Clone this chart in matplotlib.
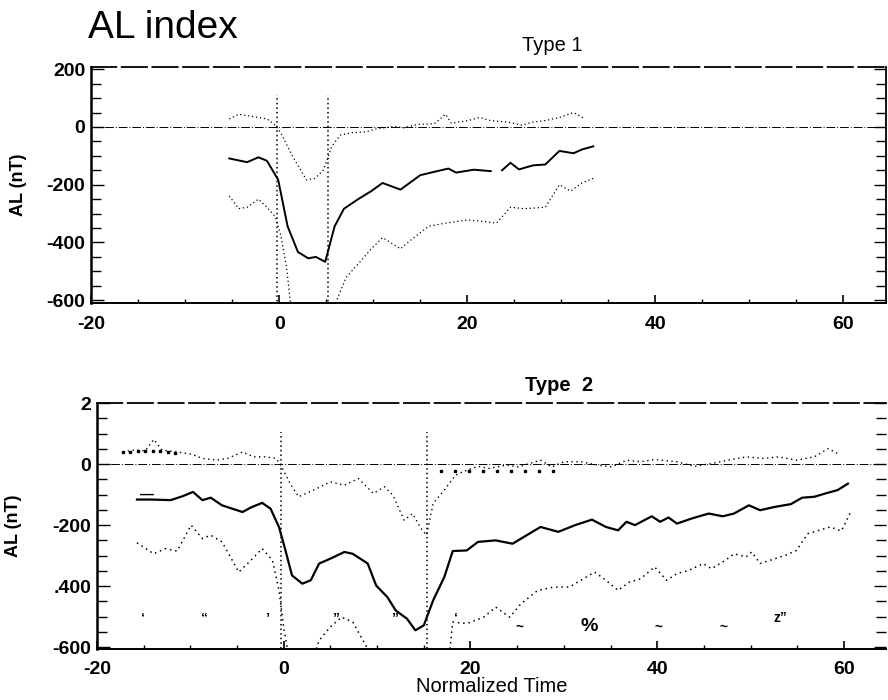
import numpy as np
import matplotlib
matplotlib.use('Agg')
import matplotlib.pyplot as plt
from matplotlib.ticker import MultipleLocator

plt.rcParams['font.family'] = ['Liberation Sans', 'DejaVu Sans']
plt.rcParams['axes.unicode_minus'] = False

# ---- Type 1 ----
t1_x = [-5.3, -3.4, -2.2, -1.3, -0.1, 0.9, 2.0, 3.1, 3.9, 4.9, 5.9, 6.9, 8.4, 9.8, 11.0,
        12.9, 15.0, 16.8, 18.0, 18.8, 20.7, 22.5, 23.1, 23.7, 24.6, 25.5, 27.0, 28.3,
        29.8, 31.3, 32.2, 33.4]
t1_mean = [-109, -122, -105, -117, -183, -344, -433, -455, -450, -467, -344, -283, -250,
           -222, -194, -217, -167, -153, -144, -158, -148, -153, np.nan, -150, -124, -147,
           -133, -130, -83, -91, -78, -67]

t1_up_x = [-5.3, -4.3, -2.8, -1.3, -0.4, 0.2, 1.4, 2.9, 3.8, 4.7, 5.6, 6.5, 7.7, 9.2, 10.4,
           12.3, 13.2, 14.7, 16.5, 17.7, 18.3, 20.1, 21.3, 22.5, 24.3, 25.8, 27.0, 28.3,
           29.8, 31.3, 32.5]
t1_up = [28, 44, 36, 28, 6, -22, -100, -183, -178, -150, -67, -28, -20, -17, -6, 2, -3, 9,
         11, 44, 13, 22, 33, 22, 17, 6, 17, 22, 33, 50, 28]

t1_lo_x = [-5.3, -4.3, -3.4, -2.2, -1.3, -0.4, 0.2, 0.8, 1.2, 3.5, 6.0, 7.1, 8.6, 9.8,
           11.0, 12.9, 14.1, 15.9, 17.7, 20.1, 21.9, 23.1, 24.6, 26.1, 28.3, 29.8, 31.0,
           32.2, 33.4]
t1_lo = [-239, -283, -278, -250, -278, -311, -378, -489, -610, np.nan, -610, -522, -467,
         -422, -383, -422, -389, -344, -333, -322, -328, -333, -278, -283, -278, -200,
         -222, -194, -178]
t1_marks = [-0.2, 5.2]

# ---- Type 2 ----
t2_x = [-15.7, -14.2, -12.1, -10.8, -9.7, -8.7, -7.8, -6.6, -4.4, -3.5, -2.3, -1.4, -0.5,
        0.1, 0.9, 2.0, 2.9, 3.8, 5.0, 6.5, 7.4, 9.0, 9.9, 11.1, 12.0, 13.2, 14.1, 15.0,
        16.0, 17.2, 18.1, 19.6, 20.8, 22.7, 24.5, 26.3, 27.5, 29.4, 31.2, 33.0, 34.5,
        35.8, 36.7, 37.6, 39.4, 40.3, 41.2, 42.1, 43.7, 45.5, 47.0, 48.2, 49.8, 51.0,
        52.6, 54.3, 55.5, 56.8, 58.0, 59.3, 60.4]
t2_mean = [-116, -116, -118, -105, -91, -118, -110, -135, -157, -142, -127, -146, -206,
           -272, -365, -392, -381, -326, -310, -288, -294, -326, -398, -436, -480, -507,
           -545, -529, -447, -370, -285, -283, -255, -250, -261, -228, -206, -222, -200,
           -182, -206, -217, -189, -200, -171, -189, -175, -195, -178, -162, -171, -162,
           -135, -151, -140, -131, -110, -107, -96, -85, -64]

t2_up_x = [-17.2, -16.0, -14.8, -13.9, -13.0, -11.4, -9.9, -8.7, -7.2, -6.0, -4.4, -3.2,
           -2.0, -0.8, -0.2, 0.7, 1.6, 3.2, 5.0, 6.5, 8.0, 9.6, 10.8, 11.7, 12.9, 13.8,
           14.7, 15.3, 16.0, 17.2, 18.4, 19.6, 20.8, 22.0, 23.9, 25.1, 26.3, 27.5, 28.7,
           30.0, 31.8, 33.6, 35.1, 36.7, 38.2, 39.7, 42.1, 44.0, 45.8, 47.6, 49.5, 51.3,
           53.0, 54.9, 56.8, 58.3, 59.3]
t2_up = [40, 46, 44, 81, 46, 40, 33, 19, 13, 19, 40, 24, 24, 19, -9, -64, -107, -85, -58,
         -69, -47, -96, -74, -102, -184, -162, -211, -233, -129, -85, -36, -20, -7, -14,
         -3, -9, 2, 13, -9, 8, 8, -3, -9, 13, 8, 15, 8, -7, 2, 13, 24, 19, 24, 13, 24, 51,
         35]

t2_lo_x = [-15.7, -13.9, -12.7, -11.4, -9.9, -8.7, -7.8, -6.6, -4.8, -3.5, -2.3, -1.2,
           -0.5, 0.0, 0.4, 2.0, 3.5, 3.8, 5.0, 6.2, 7.4, 9.0, 13.0, 17.8, 18.1, 19.6, 21.4,
           22.7, 24.2, 25.4, 27.2, 29.0, 30.6, 31.8, 33.3, 34.5, 35.8, 37.0, 38.2, 39.7,
           41.0, 42.1, 43.4, 44.9, 45.8, 47.3, 48.2, 49.5, 50.1, 51.0, 52.6, 53.7, 54.9,
           56.1, 57.3, 58.5, 59.7, 60.7]
t2_lo = [-258, -294, -277, -285, -200, -244, -233, -255, -354, -315, -277, -315, -414,
         -534, -606, np.nan, -606, -578, -534, -502, -518, -606, np.nan, -606, -518, -523,
         -502, -469, -502, -458, -414, -403, -403, -381, -354, -381, -414, -387, -376,
         -337, -381, -359, -348, -326, -343, -315, -294, -304, -288, -326, -310, -299,
         -283, -228, -217, -206, -219, -157]
t2_marks = [-0.3, 15.3]

t2_sq_x = [-17.2, -16.4, -15.6, -14.8, -14.0, -13.2, -12.4, -11.6, 16.8, 18.3, 19.8, 21.3,
           22.8, 24.3, 25.8, 27.3, 28.8]
t2_sq = [40, 40, 42, 42, 42, 42, 40, 38, -22, -22, -22, -22, -22, -22, -22, -22, -22]

# stray scan glyphs in the Type 2 panel
glyphs = ['\u2018', '\u201c', '\u2019', '\u201d', '\u201d', '\u2018', '~', '%', '~', '~', 'z\u201d', '\u2014']
glyph_x = [-15.1, -8.5, -1.8, 5.6, 11.9, 18.4, 25.2, 32.7, 40.1, 47.1, 53.2, -14.6]
glyph_y = [-505, -505, -505, -505, -505, -505, -534, -534, -534, -534, -505, -100]

fig = plt.figure(figsize=(8.88, 7.0), dpi=100)
ax1 = fig.add_axes([0.1025, 0.567, 0.895, 0.337])
ax2 = fig.add_axes([0.109, 0.073, 0.889, 0.351])


def style_axes(ax, ylo, yhi, ylabels):
    ax.set_xlim(-20, 64.5)
    ax.set_ylim(ylo, yhi)
    ax.axhline(0, color='k', lw=0.7, ls=(0, (9, 2, 1, 2)))
    ax.xaxis.set_major_locator(MultipleLocator(20))
    ax.xaxis.set_minor_locator(MultipleLocator(5))
    ax.set_yticks([200, 0, -200, -400, -600])
    ax.set_yticklabels(ylabels)
    ax.yaxis.set_minor_locator(MultipleLocator(50))
    ax.tick_params(which='both', direction='in', right=True, top=False)
    ax.tick_params(axis='y', which='major', length=9, width=1.0, pad=4, labelsize=14)
    ax.tick_params(axis='y', which='minor', length=7, width=1.0)
    ax.tick_params(axis='x', which='major', length=6, width=1.2, pad=9, labelsize=14)
    ax.tick_params(axis='x', which='minor', length=3, width=1.0)
    for lab in ax.get_xticklabels() + ax.get_yticklabels():
        lab.set_fontweight('bold')
    ax.spines['left'].set_linewidth(1.8)
    ax.spines['bottom'].set_linewidth(1.4)
    ax.spines['top'].set_linestyle((0, (14, 3)))
    ax.spines['top'].set_linewidth(1.3)
    ax.set_ylabel('AL (nT)', fontsize=13, fontweight='bold')


# Type 1
ax1.plot(t1_x, t1_mean, color='k', lw=1.4)
ax1.plot(t1_up_x, t1_up, color='k', lw=0.9, ls=(0, (1, 2.2)))
ax1.plot(t1_lo_x, t1_lo, color='k', lw=0.9, ls=(0, (1, 2.2)))
ax1.vlines(t1_marks, -620, 110, colors='k', lw=1.1, linestyles=(0, (1, 2)))
style_axes(ax1, -610, 207, ['200', '0', '-200', '-400', '-600'])
ax1.spines['right'].set_linewidth(1.3)
ax1.yaxis.set_label_coords(-0.08, 0.5)

# Type 2
ax2.plot(t2_x, t2_mean, color='k', lw=1.6)
ax2.plot(t2_up_x, t2_up, color='k', lw=1.0, ls=(0, (1, 2.5)))
ax2.plot(t2_lo_x, t2_lo, color='k', lw=1.1, ls=(0, (1, 2.5)))
ax2.plot(t2_sq_x, t2_sq, ls='none', marker='s', ms=1.6, color='k')
ax2.vlines(t2_marks, -620, 105, colors='k', lw=1.1, linestyles=(0, (1, 2)))
for g, gx, gy in zip(glyphs, glyph_x, glyph_y):
    ax2.text(gx, gy, g, ha='center', va='center', fontweight='bold',
             fontsize=14 if g == '%' else 10)
style_axes(ax2, -606, 200, ['2', '0', '-200', '.400', '-600'])
ax2.spines['right'].set_visible(False)
ax2.yaxis.set_label_coords(-0.095, 0.5)
ax2.set_xlabel('Normalized Time', fontsize=14.5, labelpad=-1)

fig.text(0.099, 0.946, 'AL index', fontsize=28, ha='left', va='baseline')
fig.text(0.622, 0.927, 'Type 1', fontsize=14.5, ha='center', va='baseline')
fig.text(0.630, 0.441, 'Type  2', fontsize=14.5, fontweight='bold', ha='center', va='baseline')

fig.savefig('out.png', dpi=100)
